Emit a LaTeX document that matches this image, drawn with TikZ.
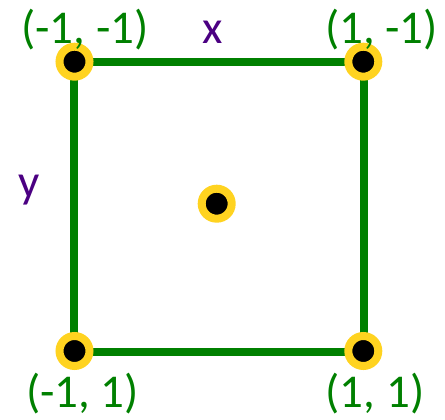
\documentclass[tikz,border=0pt]{standalone}
\usepackage{fontspec}
\setmainfont{Carlito}
\definecolor{sqgreen}{HTML}{008000}
\definecolor{dotyellow}{HTML}{FFD320}
\definecolor{lblpurple}{HTML}{4B0082}
\begin{document}
\begin{tikzpicture}[x=1pt,y=-1pt,
  edge/.style={draw=sqgreen,line width=8pt},
  dot/.style={circle,fill=black,draw=dotyellow,line width=8pt,minimum size=30pt,inner sep=0pt},
  lbl/.style={anchor=base,inner sep=0pt,text=sqgreen,font=\fontsize{47}{52}\selectfont},
  axlbl/.style={anchor=base,inner sep=0pt,text=lblpurple,font=\fontsize{47}{52}\selectfont}]
\useasboundingbox (0,0) rectangle (445,420);
\coordinate (tl) at (73.5,61.7);
\coordinate (tr) at (363.5,61.7);
\coordinate (bl) at (73.5,351.5);
\coordinate (br) at (363.5,351.5);
\draw[edge] (tl) -- (tr) -- (br) -- (bl) -- cycle;
\node[dot] (dtl) at (74.5,61.7) {};
\node[dot] (dtr) at (363.3,61.7) {};
\node[dot] (dbl) at (74.5,351) {};
\node[dot] (dbr) at (363.3,351) {};
\node[dot] (dc) at (216.7,203.7) {};
\node[lbl] (ltl) at (85,43.3) {(-1, -1)};
\node[lbl] (ltr) at (381.5,43.3) {(1, -1)};
\node[lbl] (lbl) at (82.5,407.5) {(-1, 1)};
\node[lbl] (lbr) at (375,407.5) {(1, 1)};
\node[axlbl] (lx) at (212.7,43.3) {x};
\node[axlbl] (ly) at (29.5,197.5) {y};
\end{tikzpicture}
\end{document}
